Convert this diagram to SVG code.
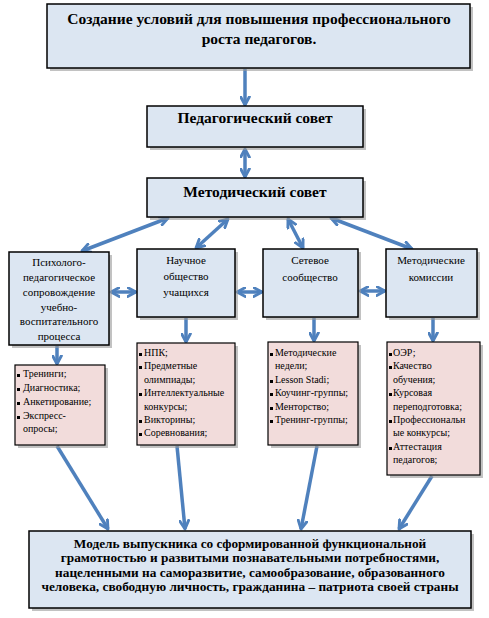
<svg xmlns="http://www.w3.org/2000/svg" width="489" height="618" viewBox="0 0 489 618">
<style>
.box{fill:#DCE6F2;stroke:#000;stroke-width:1.5}
.pink{fill:#F2DCDB;stroke:#000;stroke-width:1.2}
.sh{fill:#9a9a9a;opacity:0.6}
.tb{font-weight:bold;fill:#000;text-anchor:middle}
.t{font-size:11px;fill:#000;text-anchor:middle}
.l{font-size:10px;fill:#000}
.b{fill:#000}
.ar{stroke:#4F81BD;stroke-width:3.5;fill:none;marker-end:url(#ah)}
.dar{stroke:#4F81BD;stroke-width:3.5;fill:none;marker-end:url(#ah);marker-start:url(#ah)}
</style>
<defs>
<marker id="ah" viewBox="0 0 10 10" refX="8.5" refY="5" markerWidth="11" markerHeight="11" markerUnits="userSpaceOnUse" orient="auto-start-reverse">
<path d="M1,1 L8.5,5 L1,9" fill="none" stroke="#4F81BD" stroke-width="2.6" stroke-linecap="round" stroke-linejoin="round"/>
</marker>
</defs>
<rect width="489" height="618" fill="#fff"/>

<g id="connectors">
<line class="ar" x1="245" y1="69" x2="245" y2="105"/>
<line class="dar" x1="245" y1="149" x2="245" y2="177"/>
<line class="dar" x1="168" y1="218" x2="82" y2="251"/>
<line class="dar" x1="228" y1="219" x2="196" y2="248"/>
<line class="dar" x1="288" y1="219" x2="303" y2="248"/>
<line class="dar" x1="331" y1="218" x2="412" y2="249"/>
<line class="dar" x1="111" y1="292" x2="136" y2="292"/>
<line class="dar" x1="237" y1="292" x2="262" y2="292"/>
<line class="dar" x1="360" y1="291" x2="385" y2="291"/>
<line class="ar" x1="57" y1="346" x2="57" y2="364"/>
<line class="ar" x1="186" y1="318" x2="186" y2="342"/>
<line class="ar" x1="314" y1="318" x2="314" y2="341"/>
<line class="ar" x1="433" y1="318" x2="433" y2="341"/>
<line class="ar" x1="57" y1="446" x2="108" y2="529"/>
<line class="ar" x1="177" y1="446" x2="185" y2="529"/>
<line class="ar" x1="317" y1="446" x2="301" y2="529"/>
<line class="ar" x1="432" y1="476" x2="399" y2="529"/>
</g>

<g font-family="'Liberation Serif', 'Times New Roman', serif">
<g id="top">
<rect class="sh" x="50" y="7" width="423" height="64"/>
<rect class="box" x="47" y="4" width="423" height="64"/>
<text class="tb" font-size="15.5" x="259" y="24">Создание условий для повышения профессионального</text>
<text class="tb" font-size="15.5" x="259" y="44">роста педагогов.</text>
</g>

<g id="pedsovet">
<rect class="sh" x="150" y="109" width="216" height="41"/>
<rect class="box" x="147" y="106" width="216" height="41"/>
<text class="tb" font-size="15.5" x="255" y="123">Педагогический совет</text>
</g>

<g id="metodsovet">
<rect class="sh" x="150" y="181" width="216" height="39"/>
<rect class="box" x="147" y="178" width="216" height="39"/>
<text class="tb" font-size="15.5" x="255" y="197">Методический совет</text>
</g>

<g id="psych">
<rect class="sh" x="12" y="255" width="100" height="93"/>
<rect class="box" x="9" y="252" width="100" height="93"/>
<text class="t" font-size="11.5" x="59" y="266">Психолого-</text>
<text class="t" font-size="11.5" x="59" y="281">педагогическое</text>
<text class="t" font-size="11.5" x="59" y="296">сопровождение</text>
<text class="t" font-size="11.5" x="59" y="311">учебно-</text>
<text class="t" font-size="11.5" x="59" y="325">воспитательного</text>
<text class="t" font-size="11.5" x="59" y="340">процесса</text>
</g>

<g id="nauchnoe">
<rect class="sh" x="140" y="252" width="98" height="68"/>
<rect class="box" x="137" y="249" width="98" height="68"/>
<text class="t" x="186" y="264">Научное</text>
<text class="t" x="186" y="280">общество</text>
<text class="t" x="186" y="296">учащихся</text>
</g>

<g id="setevoe">
<rect class="sh" x="266" y="252" width="95" height="68"/>
<rect class="box" x="263" y="249" width="95" height="68"/>
<text class="t" x="310" y="264">Сетевое</text>
<text class="t" x="310" y="281">сообщество</text>
</g>

<g id="metodkom">
<rect class="sh" x="389" y="252" width="91" height="68"/>
<rect class="box" x="386" y="249" width="91" height="68"/>
<text class="t" x="431" y="264">Методические</text>
<text class="t" x="431" y="281">комиссии</text>
</g>

<g id="psych-list">
<rect class="sh" x="18" y="368" width="90" height="80"/>
<rect class="pink" x="15" y="365" width="90" height="80"/>
<rect class="b" x="17" y="374" width="3" height="3"/>
<text class="l" x="23" y="377">Тренинги;</text>
<rect class="b" x="17" y="388" width="3" height="3"/>
<text class="l" x="23" y="391">Диагностика;</text>
<rect class="b" x="17" y="402" width="3" height="3"/>
<text class="l" x="23" y="405">Анкетирование;</text>
<rect class="b" x="17" y="416" width="3" height="3"/>
<text class="l" x="23" y="419">Экспресс-</text>
<text class="l" x="23" y="432">опросы;</text>
</g>

<g id="nauchnoe-list">
<rect class="sh" x="140" y="346" width="98" height="102"/>
<rect class="pink" x="137" y="343" width="98" height="102"/>
<rect class="b" x="139" y="353" width="3" height="3"/>
<text class="l" x="144" y="356">НПК;</text>
<rect class="b" x="139" y="366" width="3" height="3"/>
<text class="l" x="144" y="369">Предметные</text>
<text class="l" x="144" y="383">олимпиады;</text>
<rect class="b" x="139" y="393" width="3" height="3"/>
<text class="l" x="144" y="396">Интеллектуальные</text>
<text class="l" x="144" y="410">конкурсы;</text>
<rect class="b" x="139" y="420" width="3" height="3"/>
<text class="l" x="144" y="423">Викторины;</text>
<rect class="b" x="139" y="433" width="3" height="3"/>
<text class="l" x="144" y="436">Соревнования;</text>
</g>

<g id="setevoe-list">
<rect class="sh" x="271" y="345" width="90" height="103"/>
<rect class="pink" x="268" y="342" width="90" height="103"/>
<rect class="b" x="270" y="353" width="3" height="3"/>
<text class="l" x="275" y="356">Методические</text>
<text class="l" x="275" y="369">недели;</text>
<rect class="b" x="270" y="380" width="3" height="3"/>
<text class="l" x="275" y="383">Lesson Stadi;</text>
<rect class="b" x="270" y="393" width="3" height="3"/>
<text class="l" x="275" y="396">Коучинг-группы;</text>
<rect class="b" x="270" y="407" width="3" height="3"/>
<text class="l" x="275" y="410">Менторство;</text>
<rect class="b" x="270" y="420" width="3" height="3"/>
<text class="l" x="275" y="423">Тренинг-группы;</text>
</g>

<g id="metodkom-list">
<rect class="sh" x="390" y="345" width="93" height="133"/>
<rect class="pink" x="387" y="342" width="93" height="133"/>
<rect class="b" x="389" y="353" width="3" height="3"/>
<text class="l" x="393" y="356">ОЭР;</text>
<rect class="b" x="389" y="366" width="3" height="3"/>
<text class="l" x="393" y="369">Качество</text>
<text class="l" x="393" y="383">обучения;</text>
<rect class="b" x="389" y="393" width="3" height="3"/>
<text class="l" x="393" y="396">Курсовая</text>
<text class="l" x="393" y="410">переподготовка;</text>
<rect class="b" x="389" y="420" width="3" height="3"/>
<text class="l" x="393" y="423">Профессиональн</text>
<text class="l" x="393" y="436">ые конкурсы;</text>
<rect class="b" x="389" y="447" width="3" height="3"/>
<text class="l" x="393" y="450">Аттестация</text>
<text class="l" x="393" y="463">педагогов;</text>
</g>

<g id="model">
<rect class="sh" x="32" y="534" width="442" height="77"/>
<rect class="box" x="29" y="531" width="442" height="77"/>
<text class="tb" font-size="13.3" x="250" y="548">Модель выпускника со сформированной функциональной</text>
<text class="tb" font-size="13.3" x="250" y="562">грамотностью и развитыми познавательными потребностями,</text>
<text class="tb" font-size="13.3" x="250" y="577">нацеленными на саморазвитие, самообразование, образованного</text>
<text class="tb" font-size="13.3" x="250" y="591">человека, свободную личность, гражданина – патриота своей страны</text>
</g>
</g>
</svg>
